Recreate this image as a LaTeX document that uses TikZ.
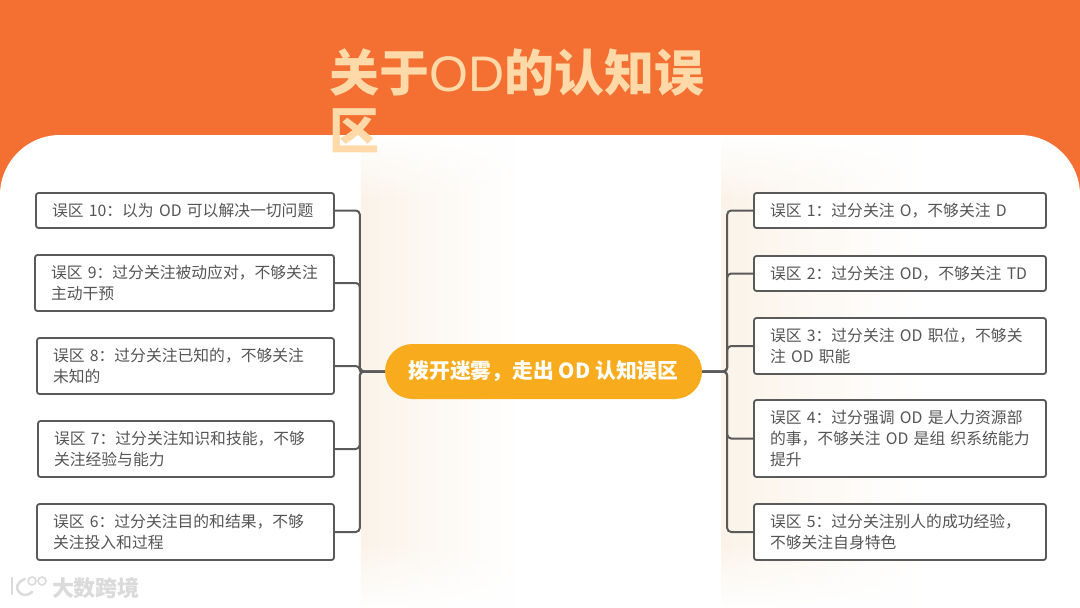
\documentclass[tikz,border=0pt]{standalone}
\usepackage{fontspec}
\setmainfont{Noto Sans CJK SC}
\newfontfamily\titlelatin{Liberation Sans}
\usetikzlibrary{fadings}
\definecolor{bandorange}{HTML}{F47032}
\definecolor{titlecream}{HTML}{FFD9A8}
\definecolor{pillamber}{HTML}{F8AB1C}
\definecolor{boxline}{HTML}{5A5A5A}
\definecolor{boxtext}{HTML}{555555}
\definecolor{fogbeige}{HTML}{FBF3E9}
\definecolor{marklight}{HTML}{DADADA}
\pgfdeclareverticalshading{fogshade}{100bp}{color(0bp)=(pgftransparent!100); color(25bp)=(pgftransparent!100); color(32bp)=(pgftransparent!0); color(68bp)=(pgftransparent!0); color(75bp)=(pgftransparent!100); color(100bp)=(pgftransparent!100)}
\pgfdeclarefading{fogmask}{\pgfuseshading{fogshade}}
\tikzset{
  x=1pt,y=-1pt,
  errbox/.style={draw=boxline,line width=1.8pt,rounded corners=2.5pt,fill=white,
    inner xsep=16pt,inner ysep=0pt,anchor=center,align=left,text=boxtext,
    font=\fontsize{15.8}{21}\selectfont},
  conn/.style={draw=boxline,line width=2pt,rounded corners=4pt},
  hub/.style={fill=pillamber,rounded corners=27.5pt,text=white,inner sep=0pt,
    minimum width=317pt,minimum height=55pt,font=\bfseries\fontsize{20.8}{24}\selectfont},
  fog/.style={left color=fogbeige,right color=white,draw=none,path fading=fogmask},
  wmark/.style={draw=marklight,line width=2.4pt,line cap=round}
}
\begin{document}
\begin{tikzpicture}
\useasboundingbox (0,0) rectangle (1080,608);
% background
\fill[bandorange] (0,0) rectangle (1080,608);
\fill[white] (0,608) -- (0,195) .. controls (0,162) and (27,135) .. (60,135) -- (1020,135)
   .. controls (1053,135) and (1080,162) .. (1080,195) -- (1080,608) -- cycle;
% soft beige fog
\path[fog] (361,135) rectangle (520,608);
\path[fog] (721,135) rectangle (920,608);
% title
\node[anchor=north west,inner sep=0pt,align=left,text=titlecream,
  font=\bfseries\fontsize{50}{58}\selectfont] (title) at (329,48)
  {关于{\titlelatin\mdseries OD}的认知误\\区};
% hub
\node[hub] (hub) at (543.5,371.5) {拨开迷雾，走出~OD~认知误区};
% left boxes
\node[errbox,text width=266pt,minimum height=35pt] (e10) at (185,210.5) {误区~10：以为~OD~可以解决一切问题};
\node[errbox,text width=267pt,minimum height=56pt] (e9) at (184.5,283) {误区~9：过分关注被动应对，不够关注\\主动干预};
\node[errbox,text width=265pt,minimum height=56pt] (e8) at (185.5,366) {误区~8：过分关注已知的，不够关注\\未知的};
\node[errbox,text width=264pt,minimum height=56pt] (e7) at (186,449) {误区~7：过分关注知识和技能，不够\\关注经验与能力};
\node[errbox,text width=265pt,minimum height=56pt] (e6) at (185.5,532) {误区~6：过分关注目的和结果，不够\\关注投入和过程};
% right boxes
\node[errbox,text width=260pt,minimum height=35pt] (e1) at (900,210.5) {误区~1：过分关注~O，不够关注~D};
\node[errbox,text width=260pt,minimum height=35pt] (e2) at (900,273.5) {误区~2：过分关注~OD，不够关注~TD};
\node[errbox,text width=260pt,minimum height=56pt] (e3) at (900,346) {误区~3：过分关注~OD~职位，不够关\\注~OD~职能};
\node[errbox,text width=260pt,minimum height=77pt] (e4) at (900,438.5) {误区~4：过分强调~OD~是人力资源部\\的事，不够关注~OD~是组~织系统能力\\提升};
\node[errbox,text width=260pt,minimum height=56pt] (e5) at (900,532) {误区~5：过分关注别人的成功经验，\\不够关注自身特色};
% connectors
\foreach \n in {e10,e9,e8,e7,e6}
  \draw[conn] (hub.west) -- ++(-25,0) |- (\n.east);
\foreach \n in {e1,e2,e3,e4,e5}
  \draw[conn] (hub.east) -- ++(25,0) |- (\n.west);
% watermark
\draw[wmark] (12,578) -- (12,594);
\draw[wmark] (25,579) .. controls (17,582) and (15,588) .. (19,592) .. controls (22,596) and (28,596) .. (32,592);
\draw[wmark,line width=1.6pt] (32,581) circle (4);
\draw[wmark,line width=1.6pt] (42,581) circle (4);
\node[anchor=center,inner sep=0pt,text=marklight,font=\bfseries\fontsize{22}{24}\selectfont] (wm) at (96,588) {大数跨境};
\end{tikzpicture}
\end{document}
